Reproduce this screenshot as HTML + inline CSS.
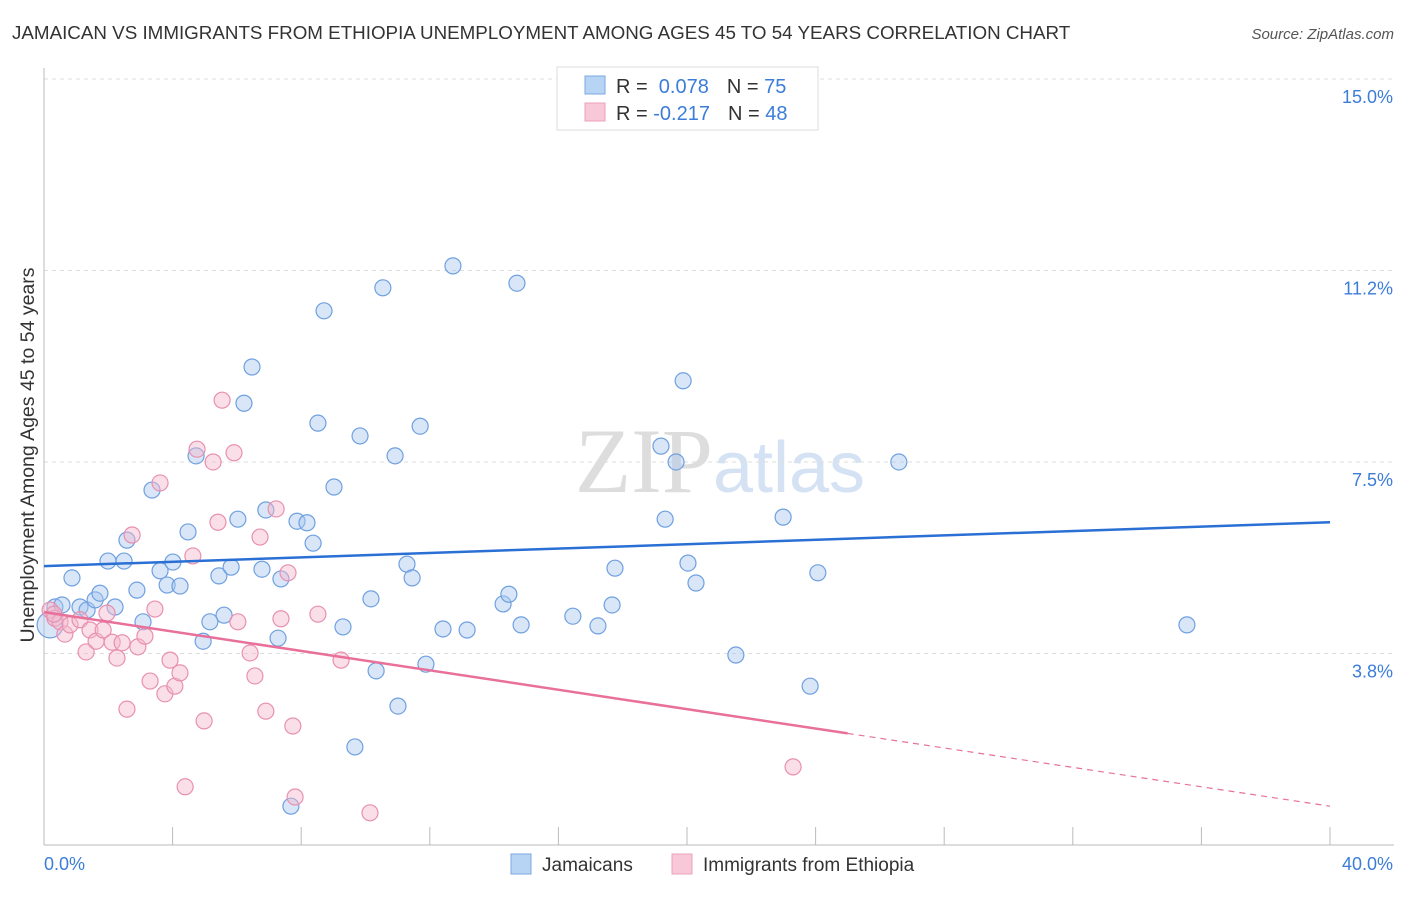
<!DOCTYPE html>
<html><head><meta charset="utf-8"><style>
body{margin:0;background:#fff;font-family:"Liberation Sans",sans-serif;}
</style></head><body>
<svg id="chart" width="1406" height="892" viewBox="0 0 1406 892" xmlns="http://www.w3.org/2000/svg" font-family="Liberation Sans, sans-serif">
<text x="12" y="39" font-size="18.8" fill="#333">JAMAICAN VS IMMIGRANTS FROM ETHIOPIA UNEMPLOYMENT AMONG AGES 45 TO 54 YEARS CORRELATION CHART</text>
<text x="1394" y="39" font-size="15" fill="#555" text-anchor="end" font-style="italic">Source: ZipAtlas.com</text>
<text x="720" y="492" font-size="92" fill="#ddd" text-anchor="middle" font-family="Liberation Serif, serif">ZIP<tspan fill="#d4e2f4" font-family="Liberation Sans, sans-serif" font-size="72">atlas</tspan></text>
<g id="grid"></g><g id="axes"></g><g id="marks"></g>
<text transform="translate(34,455) rotate(-90)" font-size="19.5" fill="#333" text-anchor="middle">Unemployment Among Ages 45 to 54 years</text>
<g>
<rect x="557" y="67" width="261" height="63" fill="#fff" stroke="#ddd"/>
<rect x="585" y="76" width="20" height="18" fill="#b8d4f4" stroke="#7aa8e0"/>
<rect x="585" y="103" width="20" height="18" fill="#f9c8d8" stroke="#eba0bc"/>
<text x="616" y="93" font-size="20" fill="#333">R = <tspan fill="#3b7dd8">&#160;0.078</tspan><tspan dx="18">N = </tspan><tspan fill="#3b7dd8">75</tspan></text>
<text x="616" y="120" font-size="20" fill="#333">R = <tspan fill="#3b7dd8">-0.217</tspan><tspan dx="18">N = </tspan><tspan fill="#3b7dd8">48</tspan></text>
</g>
<g>
<rect x="511" y="854" width="20" height="20" fill="#b8d4f4" stroke="#7aa8e0"/>
<text x="542" y="871" font-size="19" fill="#333">Jamaicans</text>
<rect x="672" y="854" width="20" height="20" fill="#f9c8d8" stroke="#eba0bc"/>
<text x="703" y="871" font-size="19" fill="#333">Immigrants from Ethiopia</text>
</g>
</svg>
<script>
const xTickValues=[0,4,8,12,16,20,24,28,32,36,40];
const yTickValues=[3.75,7.5,11.25,15];
const yTickLabels=["3.8%","7.5%","11.2%","15.0%"];
const xEndLabels=["0.0%","40.0%"];
const jamX=[0.19,0.34,0.56,0.87,1.12,1.34,1.59,1.74,1.99,2.21,2.49,2.58,2.89,3.08,3.36,3.61,3.83,4.01,4.23,4.48,4.73,5.16,4.95,5.44,5.60,5.82,6.03,6.22,6.47,6.78,6.90,7.28,7.37,7.87,8.18,8.37,8.52,8.71,9.02,9.30,9.67,9.83,10.17,10.33,10.54,10.92,11.01,11.29,11.45,11.70,11.88,12.41,12.72,13.16,14.28,14.46,14.71,14.84,16.45,17.23,17.67,17.76,19.19,19.32,19.66,19.88,20.03,20.28,21.52,22.99,23.83,24.07,26.59,35.55,7.68];
const jamY=[4.31,4.66,4.70,5.23,4.66,4.60,4.80,4.93,5.56,4.66,5.56,5.97,4.99,4.37,6.95,5.37,5.09,5.54,5.07,6.13,7.62,4.37,3.99,5.27,4.50,5.44,6.38,8.65,9.36,5.40,6.56,4.05,5.21,6.34,6.31,5.91,8.26,10.46,7.01,4.27,1.92,8.01,4.82,3.41,10.91,7.62,2.72,5.50,5.23,8.20,3.54,4.23,11.34,4.21,4.72,4.91,11.00,4.31,4.48,4.29,4.70,5.42,7.81,6.38,7.50,9.09,5.52,5.13,3.72,6.42,3.11,5.33,7.50,4.31,0.76];
const ethX=[0.19,0.34,0.50,0.65,0.81,1.12,1.31,1.43,1.62,1.84,1.96,2.12,2.27,2.43,2.58,2.74,2.92,3.14,3.30,3.45,3.61,3.76,3.92,4.07,4.23,4.39,4.76,4.98,5.26,5.41,5.54,5.91,6.03,6.41,6.56,6.72,6.90,7.22,7.37,7.59,7.74,7.81,8.52,9.24,10.14,23.30,4.63,0.31];
const ethY=[4.60,4.44,4.37,4.13,4.31,4.41,3.78,4.21,3.99,4.21,4.54,3.97,3.66,3.96,2.66,6.07,3.88,4.09,3.21,4.62,7.09,2.96,3.62,3.11,3.37,1.14,7.75,2.43,7.50,6.32,8.71,7.68,4.37,3.76,3.31,6.03,2.62,6.58,4.43,5.33,2.33,0.94,4.52,3.62,0.63,1.53,5.66,4.52];
const jamTrend=[5.46,6.32];
const ethTrend=[4.56,0.76];
const ethSolidEnd=25;
const X0=44,X1=1330,Y0=845,PXV=51.07;
const sx=v=>X0+(X1-X0)*v/40, sy=v=>Y0-v*PXV;
const NS="http://www.w3.org/2000/svg";
function mk(tag,attrs,parent){const e=document.createElementNS(NS,tag);for(const k in attrs)e.setAttribute(k,attrs[k]);parent.appendChild(e);return e;}
const grid=document.getElementById('grid'),axes=document.getElementById('axes'),marks=document.getElementById('marks');
yTickValues.forEach((v,i)=>{
 const l=mk('line',{x1:X0,x2:1394,y1:sy(v),y2:sy(v),stroke:'#ddd','stroke-dasharray':'4,4'},grid);
 
 
 const t=mk('text',{x:1393,y:sy(v)+24,'font-size':18,fill:'#3b7dd8','text-anchor':'end'},axes);
 t.textContent=yTickLabels[i];
 
 
});
const xa=mk('line',{x1:X0,x2:1394,y1:Y0,y2:Y0,stroke:'#bbb'},axes);


const ya=mk('line',{x1:X0,x2:X0,y1:68,y2:Y0,stroke:'#bbb'},axes);


xTickValues.forEach(v=>{
 const t=mk('line',{x1:sx(v),x2:sx(v),y1:Y0,y2:Y0-18,stroke:'#bbb'},axes);
 
 
});
const xl0=mk('text',{x:44,y:870,'font-size':18,fill:'#3b7dd8'},axes);xl0.textContent=xEndLabels[0];


const xl1=mk('text',{x:1393,y:870,'font-size':18,fill:'#3b7dd8','text-anchor':'end'},axes);xl1.textContent=xEndLabels[1];


jamX.forEach((x,i)=>{
 const c=mk('circle',{cx:sx(x),cy:sy(jamY[i]),r:i===0?13:8,fill:'rgba(168,200,240,0.45)',stroke:'#6fa0e0','stroke-width':1.2},marks);
 
 
});
ethX.forEach((x,i)=>{
 const c=mk('circle',{cx:sx(x),cy:sy(ethY[i]),r:8,fill:'rgba(245,184,204,0.45)',stroke:'#e890b0','stroke-width':1.2},marks);
 
 
});
const jl=mk('line',{x1:sx(0),y1:sy(jamTrend[0]),x2:sx(40),y2:sy(jamTrend[1]),stroke:'#2a6fd4','stroke-width':2.5},marks);


const em=ethTrend[0]+(ethTrend[1]-ethTrend[0])*ethSolidEnd/40;
const el1=mk('line',{x1:sx(0),y1:sy(ethTrend[0]),x2:sx(ethSolidEnd),y2:sy(em),stroke:'#e8709a','stroke-width':2.5},marks);


const el2=mk('line',{x1:sx(ethSolidEnd),y1:sy(em),x2:sx(40),y2:sy(ethTrend[1]),stroke:'#e8709a','stroke-width':1.2,'stroke-dasharray':'6,5'},marks);


</script>
</body></html>
